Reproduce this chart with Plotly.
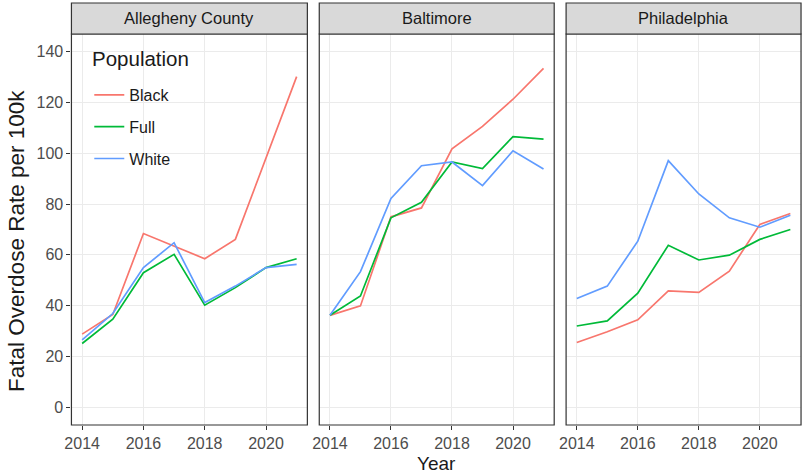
import plotly.graph_objects as go

# Fatal overdose rates per 100k, by city and population group
years = [2014, 2015, 2016, 2017, 2018, 2019, 2020, 2021]
cities = ["Allegheny County", "Baltimore", "Philadelphia"]
groups = ["Black", "Full", "White"]

allegheny_black = [28.8, 36.5, 68.4, 63.5, 58.5, 66.1, 98.5, 130.2]
allegheny_full = [25.1, 34.7, 53.0, 60.2, 40.2, 47.1, 55.0, 58.5]
allegheny_white = [26.5, 36.9, 55.0, 64.8, 41.2, 47.7, 55.0, 56.3]

baltimore_black = [36.2, 39.9, 75.0, 78.5, 101.8, 110.6, 121.3, 133.5]
baltimore_full = [36.2, 43.8, 74.6, 80.7, 96.6, 94.0, 106.6, 105.6]
baltimore_white = [36.2, 53.4, 82.2, 95.1, 96.6, 87.3, 101.0, 93.8]

philadelphia_black = [25.5, 29.7, 34.4, 45.8, 45.2, 53.6, 72.0, 76.3]
philadelphia_full = [32.0, 34.0, 44.9, 63.8, 58.0, 59.9, 66.1, 70.0]
philadelphia_white = [42.8, 47.7, 65.4, 97.1, 84.0, 74.6, 70.9, 75.6]

y_ticks = [0, 20, 40, 60, 80, 100, 120, 140]
x_ticks = [2014, 2016, 2018, 2020]

series = {
    "Allegheny County": [allegheny_black, allegheny_full, allegheny_white],
    "Baltimore": [baltimore_black, baltimore_full, baltimore_white],
    "Philadelphia": [philadelphia_black, philadelphia_full, philadelphia_white],
}
colors = {"Black": "#F8766D", "Full": "#00BA38", "White": "#619CFF"}

W, H = 805, 476
FONT = "Liberation Sans, Arial, sans-serif"

# panel extents in pixels
panels_px = [(65, 303), (315, 552), (564, 801)]
plot_top, plot_bot = 34, 425
strip_top = 3

def px_x(v):
    return v / W

def px_y(v):
    return 1 - v / H

fig = go.Figure()

for i, city in enumerate(cities):
    suffix = "" if i == 0 else str(i + 1)
    for g, vals in zip(groups, series[city]):
        fig.add_trace(go.Scatter(
            x=years, y=vals, mode="lines", name=g,
            line=dict(color=colors[g], width=1.7),
            xaxis="x" + suffix, yaxis="y" + suffix,
            showlegend=(i == 0), legendgroup=g,
            hoverinfo="skip",
        ))

layout = dict(
    width=W, height=H,
    margin=dict(l=0, r=0, t=0, b=0),
    paper_bgcolor="white", plot_bgcolor="white",
    font=dict(family=FONT, color="#4D4D4D"),
    showlegend=True,
    legend=dict(
        x=px_x(83), y=px_y(78), xanchor="left", yanchor="top",
        bgcolor="rgba(255,255,255,0)",
        font=dict(size=16, color="#1A1A1A", family=FONT),
        tracegroupgap=8,
        itemwidth=30,
    ),
)

shapes = []
annotations = []
for i, (x0, x1) in enumerate(panels_px):
    suffix = "" if i == 0 else str(i + 1)
    layout["xaxis" + suffix] = dict(
        domain=[px_x(x0), px_x(x1)],
        anchor="y" + suffix,
        range=[2013.65, 2021.35],
        tickvals=x_ticks,
        ticks="outside", ticklen=4, tickcolor="#333333", tickwidth=1,
        tickfont=dict(size=16, color="#4D4D4D", family=FONT),
        showgrid=True, gridcolor="#EBEBEB", gridwidth=1.2,
        zeroline=False, showline=False,
    )
    layout["yaxis" + suffix] = dict(
        domain=[px_y(plot_bot), px_y(plot_top)],
        anchor="x" + suffix,
        range=[-7, 147],
        tickvals=y_ticks,
        ticks="outside" if i == 0 else "",
        ticklen=4, tickcolor="#333333", tickwidth=1,
        showticklabels=(i == 0),
        tickfont=dict(size=16, color="#4D4D4D", family=FONT),
        showgrid=True, gridcolor="#EBEBEB", gridwidth=1.2,
        zeroline=False, showline=False,
    )
    # panel border
    shapes.append(dict(
        type="rect", xref="paper", yref="paper",
        x0=px_x(x0), x1=px_x(x1), y0=px_y(plot_bot), y1=px_y(plot_top),
        line=dict(color="#333333", width=1.2), fillcolor="rgba(0,0,0,0)",
        layer="above",
    ))
    # facet strip
    shapes.append(dict(
        type="rect", xref="paper", yref="paper",
        x0=px_x(x0), x1=px_x(x1), y0=px_y(plot_top), y1=px_y(strip_top),
        line=dict(color="#333333", width=1.2), fillcolor="#D9D9D9",
    ))
    annotations.append(dict(
        text=cities[i], xref="paper", yref="paper",
        x=px_x((x0 + x1) / 2), y=px_y((plot_top + strip_top) / 2),
        xanchor="center", yanchor="middle", showarrow=False,
        font=dict(size=16.5, color="#1A1A1A", family=FONT),
    ))

# legend heading
annotations.append(dict(
    text="Population", xref="paper", yref="paper",
    x=px_x(84), y=px_y(58),
    xanchor="left", yanchor="middle", showarrow=False,
    font=dict(size=20.5, color="#1A1A1A", family=FONT),
))

# axis titles
annotations.append(dict(
    text="Year", xref="paper", yref="paper",
    x=px_x((panels_px[0][0] + panels_px[-1][1]) / 2), y=px_y(463),
    xanchor="center", yanchor="middle", showarrow=False,
    font=dict(size=19, color="#1A1A1A", family=FONT),
))
annotations.append(dict(
    text="Fatal Overdose Rate per 100k", xref="paper", yref="paper",
    x=px_x(9), y=px_y(241),
    xanchor="center", yanchor="middle", showarrow=False, textangle=-90,
    font=dict(size=22.5, color="#1A1A1A", family=FONT),
))

layout["shapes"] = shapes
layout["annotations"] = annotations
fig.update_layout(**layout)

fig.write_html("out.html")
